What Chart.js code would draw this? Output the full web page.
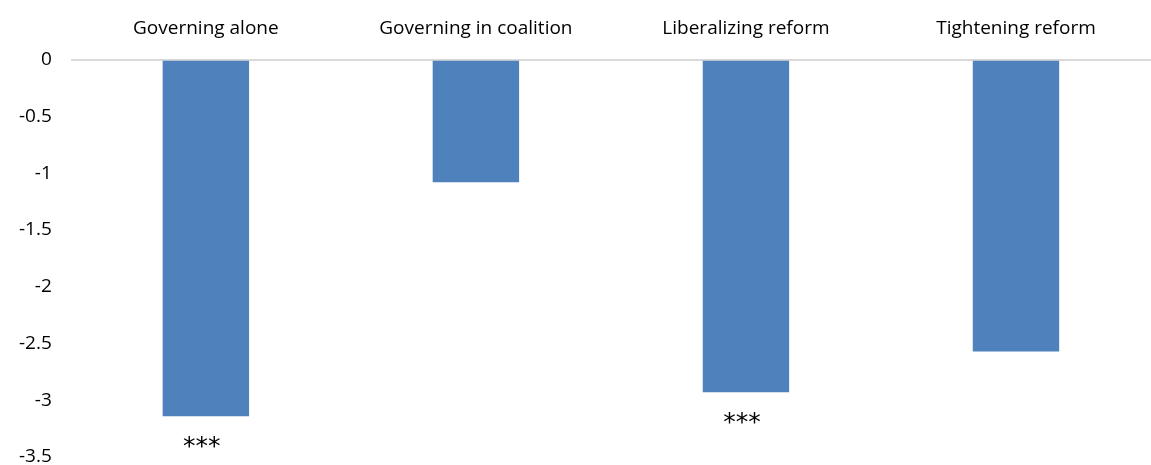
<!DOCTYPE html>
<html>
<head>
<meta charset="utf-8">
<script src="https://cdn.jsdelivr.net/npm/chart.js@4"></script>
<style>
	html, body { margin: 0; padding: 0; background: #fff; overflow: hidden; }
</style>
</head>
<body>
<canvas id="chart" width="1151" height="465"></canvas>
<script>
// Data
const categories = ['Governing alone', 'Governing in coalition', 'Liberalizing reform', 'Tightening reform'];
const values = [-3.14, -1.08, -2.93, -2.57];
const significance = ['***', '', '***', ''];

// draws the significance stars under each bar
const starsPlugin = {
	id: 'stars',
	afterDatasetsDraw(chart) {
		const ctx = chart.ctx;
		const meta = chart.getDatasetMeta(0);
		ctx.save();
		ctx.font = '25px "DejaVu Sans"';
		ctx.fillStyle = '#000';
		ctx.textAlign = 'center';
		ctx.textBaseline = 'middle';
		meta.data.forEach(function (bar, i) {
			if (significance[i]) {
				ctx.fillText(significance[i], bar.x - 4, bar.y + 31);
			}
		});
		ctx.restore();
	}
};

document.addEventListener('DOMContentLoaded', function () {
	const ctx = document.getElementById('chart');
	new Chart(ctx, {
		type: 'bar',
		data: {
			labels: categories,
			datasets: [{
				data: values,
				backgroundColor: '#4f81bd',
				borderWidth: 0,
				categoryPercentage: 1,
				barPercentage: 0.32
			}]
		},
		options: {
			responsive: false,
			animation: false,
			layout: { padding: { top: 5, bottom: 0, left: 0, right: 0 } },
			plugins: {
				legend: { display: false },
				tooltip: { enabled: false }
			},
			scales: {
				x: {
					position: 'top',
					grid: { display: false },
					border: { display: false },
					ticks: {
						color: '#000',
						font: { family: 'Open Sans', size: 19 },
						maxRotation: 0,
						padding: 12
					}
				},
				y: {
					min: -3.5,
					max: 0,
					border: { display: false },
					grid: {
						drawTicks: false,
						color: function (c) { return c.tick && c.tick.value === 0 ? '#d9d9d9' : 'rgba(0,0,0,0)'; },
						lineWidth: 2
					},
					ticks: {
						stepSize: 0.5,
						color: '#000',
						font: { family: 'Open Sans', size: 19 },
						padding: 19,
						callback: function (v) { return String(v); }
					},
					afterFit: function (scale) {
						scale.paddingBottom = 8;
					}
				}
			}
		},
		plugins: [starsPlugin]
	});
});
</script>
</body>
</html>
